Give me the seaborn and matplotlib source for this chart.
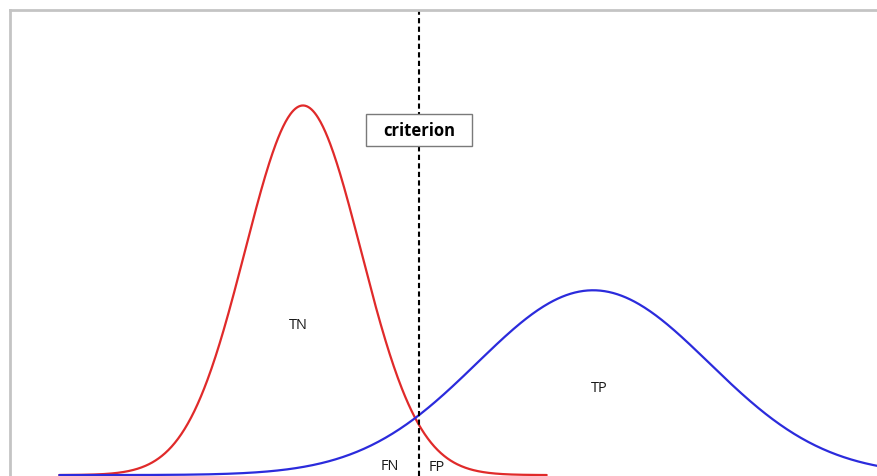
import numpy as np
import pandas as pd
import matplotlib
matplotlib.use("Agg")
import matplotlib.pyplot as plt
import matplotlib.transforms as mtransforms
from matplotlib.patches import Rectangle
import seaborn as sns

# Two normal score distributions and the decision criterion
groups = ["negative", "positive"]
means = [0.0, 5.0]
sds = [1.0, 2.0]
ranges = [(-4.2, 4.2), (-4.2, 10.5)]
criterion = 2.0

region_labels = ["TN", "TP", "FN", "FP"]
region_x = [-0.08, 5.1, 1.5, 2.3]
region_y = [0.162, 0.094, 0.010, 0.009]

palette = {"negative": "#e02a2a", "positive": "#2b2bdc"}

frames = []
for g, m, s, (lo, hi) in zip(groups, means, sds, ranges):
    x = np.linspace(lo, hi, 600)
    d = np.exp(-0.5 * ((x - m) / s) ** 2) / (s * np.sqrt(2 * np.pi))
    frames.append(pd.DataFrame({"score": x, "density": d, "group": g}))
df = pd.concat(frames, ignore_index=True)

sns.set_theme(style="white")
plt.rcParams["font.family"] = ["Open Sans", "DejaVu Sans"]

fig = plt.figure(figsize=(8.78, 4.77), dpi=100)
ax = fig.add_axes([10 / 878, 0.0, 868 / 878, 466 / 477])

sns.lineplot(data=df, x="score", y="density", hue="group", palette=palette,
             linewidth=1.6, legend=False, ax=ax, sort=False)

ax.axvline(criterion, color="black", linewidth=1.5, linestyle=(0, (2.5, 1.6)))

# Labelled box sitting on the criterion line
blend = mtransforms.blended_transform_factory(ax.transData, ax.transAxes)
box_w = 1.84
box_h = 0.069
box_y = 0.743
ax.add_patch(Rectangle((criterion - box_w / 2, box_y - box_h / 2), box_w, box_h,
                       transform=blend, facecolor="white", edgecolor="#7a7a7a",
                       linewidth=1.0, zorder=3))
ax.text(criterion, box_y, "criterion", transform=blend, ha="center", va="center",
        fontsize=12, fontweight="bold", color="black", zorder=4)

for lab, lx, ly in zip(region_labels, region_x, region_y):
    ax.text(lx, ly, lab, ha="center", va="center", fontsize=10.5, color="#1a1a1a")

ax.set_xlim(-5.05, 9.91)
ax.set_ylim(-0.001, 0.502)
ax.set_xticks([])
ax.set_yticks([])
ax.set_xlabel("")
ax.set_ylabel("")
for side in ["right", "bottom"]:
    ax.spines[side].set_visible(False)
for side in ["left", "top"]:
    ax.spines[side].set_color("#c4c4c4")
    ax.spines[side].set_linewidth(2.0)

fig.savefig("out.png", dpi=100, facecolor="white")
